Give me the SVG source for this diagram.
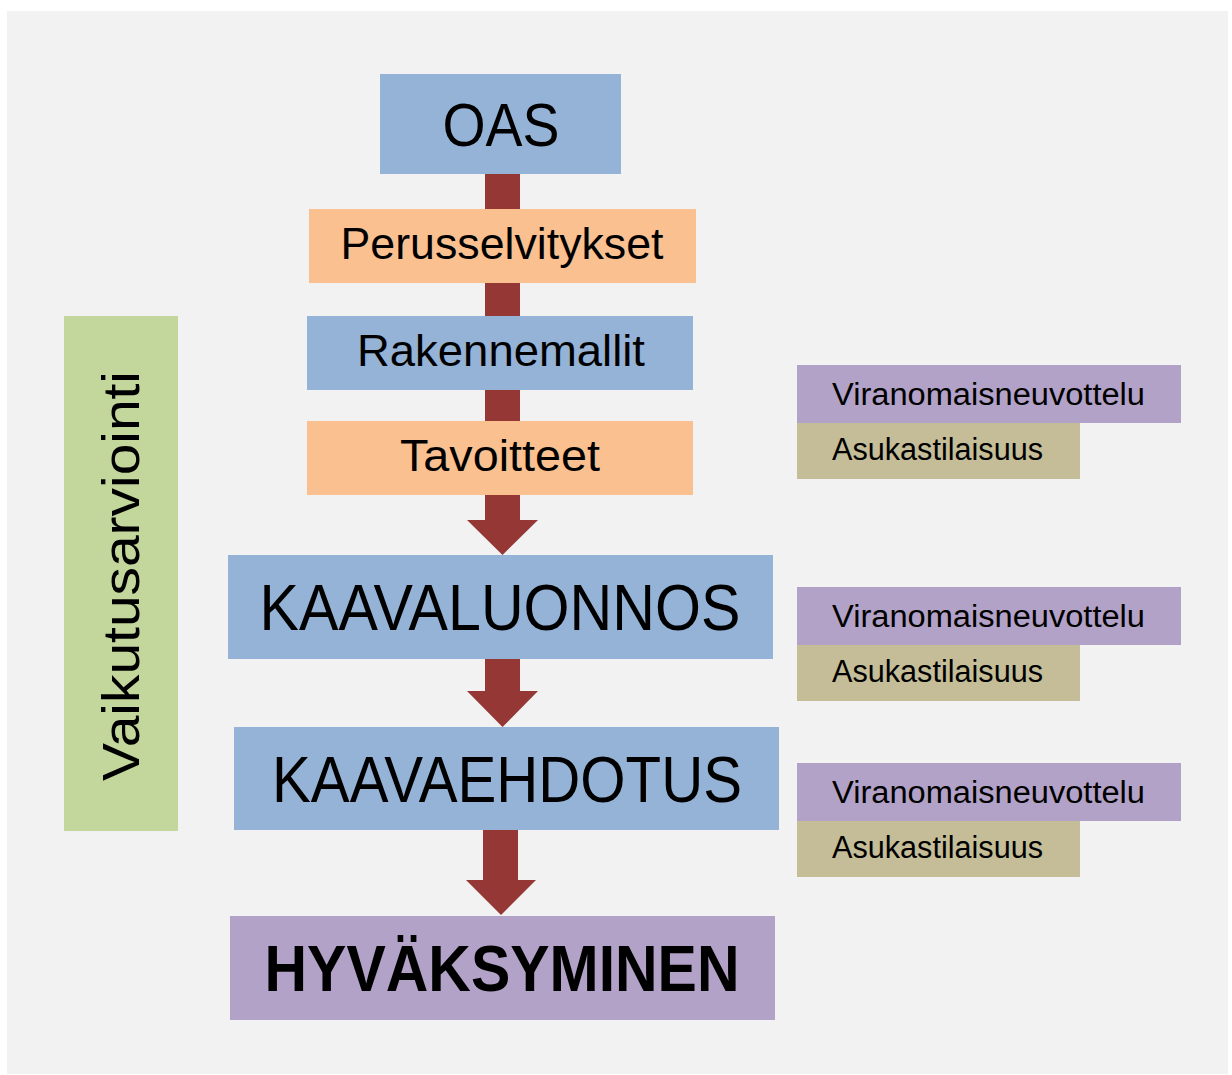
<svg xmlns="http://www.w3.org/2000/svg" width="1232" height="1075" viewBox="0 0 1232 1075">
<style>
text{font-family:"Liberation Sans",Arial,sans-serif;fill:#000;text-anchor:middle}
.blue{fill:#95b3d7}.orange{fill:#fac090}.green{fill:#c3d69b}.purple{fill:#b3a2c7}.khaki{fill:#c4bd97}
.arrow{fill:#953735}
.main{font-size:64px}.mid{font-size:45px}.side{font-size:31px;text-anchor:start}
</style>
<rect x="0" y="0" width="1232" height="1075" fill="#ffffff"/>
<rect x="7" y="11" width="1221" height="1063" fill="#f2f2f2"/>
<g id="connectors">
<rect class="arrow" x="485" y="174" width="35" height="36"/>
<rect class="arrow" x="485" y="283" width="35" height="34"/>
<rect class="arrow" x="485" y="390" width="35" height="32"/>
<polygon class="arrow" points="485,495 520,495 520,520 538,520 502.5,555 467,520 485,520"/>
<polygon class="arrow" points="485,659 520,659 520,691 538,691 502.5,727 467,691 485,691"/>
<polygon class="arrow" points="483,830 518,830 518,880 536,880 501,915 466,880 483,880"/>
</g>
<g id="oas"><rect class="blue" x="380" y="74" width="241" height="100"/><text x="501" y="146" style="font-size:61px" textLength="117" lengthAdjust="spacingAndGlyphs">OAS</text></g>
<g id="perusselvitykset"><rect class="orange" x="309" y="209" width="387" height="74"/><text class="mid" x="502" y="259" textLength="323" lengthAdjust="spacingAndGlyphs">Perusselvitykset</text></g>
<g id="rakennemallit"><rect class="blue" x="307" y="316" width="386" height="74"/><text class="mid" x="501" y="366" textLength="288" lengthAdjust="spacingAndGlyphs">Rakennemallit</text></g>
<g id="tavoitteet"><rect class="orange" x="307" y="421" width="386" height="74"/><text class="mid" x="500" y="471" textLength="200" lengthAdjust="spacingAndGlyphs">Tavoitteet</text></g>
<g id="kaavaluonnos"><rect class="blue" x="228" y="555" width="545" height="104"/><text class="main" x="500" y="630" textLength="481" lengthAdjust="spacingAndGlyphs">KAAVALUONNOS</text></g>
<g id="kaavaehdotus"><rect class="blue" x="234" y="727" width="545" height="103"/><text class="main" x="507" y="802" textLength="470" lengthAdjust="spacingAndGlyphs">KAAVAEHDOTUS</text></g>
<g id="hyvaksyminen"><rect class="purple" x="230" y="916" width="545" height="104"/><text class="main" x="502" y="991" font-weight="bold" textLength="475" lengthAdjust="spacingAndGlyphs">HYVÄKSYMINEN</text></g>
<g id="vaikutusarviointi"><rect class="green" x="64" y="316" width="114" height="515"/><text transform="translate(139 576) rotate(-90)" x="0" y="0" style="font-size:52px" textLength="410" lengthAdjust="spacingAndGlyphs">Vaikutusarviointi</text></g>
<g id="viranomais1"><rect class="purple" x="797" y="365" width="384" height="58"/><text class="side" x="832" y="405" textLength="313" lengthAdjust="spacingAndGlyphs">Viranomaisneuvottelu</text></g>
<g id="asukas1"><rect class="khaki" x="797" y="423" width="283" height="56"/><text class="side" x="832" y="460" textLength="211" lengthAdjust="spacingAndGlyphs">Asukastilaisuus</text></g>
<g id="viranomais2"><rect class="purple" x="797" y="587" width="384" height="58"/><text class="side" x="832" y="627" textLength="313" lengthAdjust="spacingAndGlyphs">Viranomaisneuvottelu</text></g>
<g id="asukas2"><rect class="khaki" x="797" y="645" width="283" height="56"/><text class="side" x="832" y="682" textLength="211" lengthAdjust="spacingAndGlyphs">Asukastilaisuus</text></g>
<g id="viranomais3"><rect class="purple" x="797" y="763" width="384" height="58"/><text class="side" x="832" y="803" textLength="313" lengthAdjust="spacingAndGlyphs">Viranomaisneuvottelu</text></g>
<g id="asukas3"><rect class="khaki" x="797" y="821" width="283" height="56"/><text class="side" x="832" y="858" textLength="211" lengthAdjust="spacingAndGlyphs">Asukastilaisuus</text></g>
</svg>
